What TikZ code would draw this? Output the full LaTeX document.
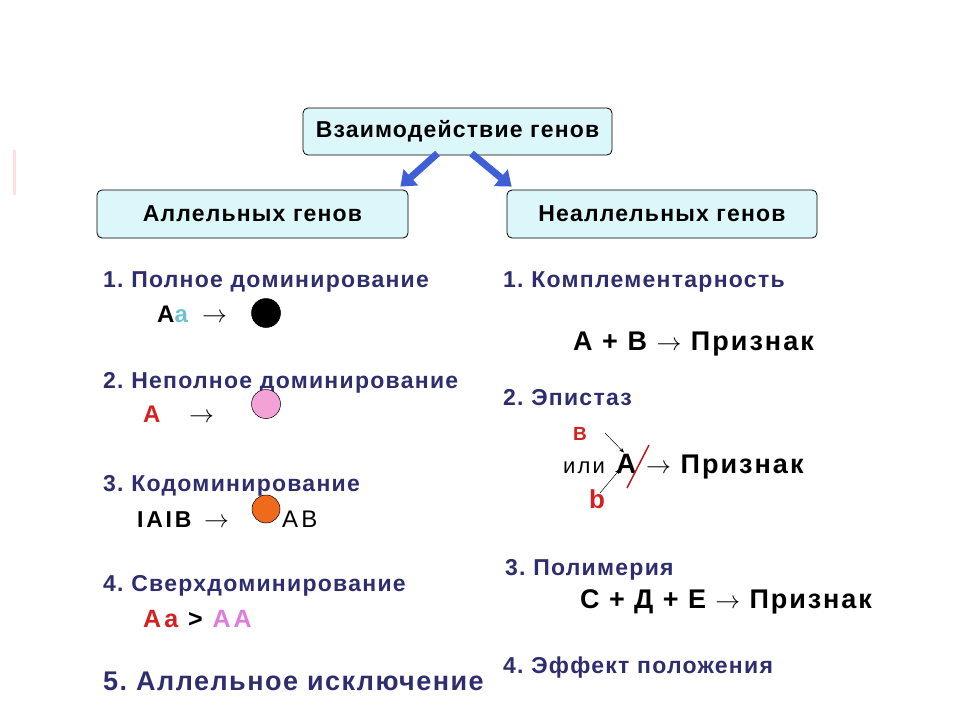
\documentclass[tikz,border=0pt]{standalone}
\usepackage{fontspec}
\setmainfont{Liberation Sans}
\usetikzlibrary{arrows.meta}
\AtBeginDocument{\frenchspacing}
\definecolor{navy}{HTML}{2E2E6E}
\definecolor{boxfill}{HTML}{DCF7FA}
\definecolor{arrblue}{HTML}{3F5FD6}
\definecolor{lblue}{HTML}{6CC3D3}
\definecolor{dred}{HTML}{D42020}
\definecolor{violet}{HTML}{E07CE0}
\definecolor{pinkc}{HTML}{F2A2D6}
\definecolor{orangec}{HTML}{F06A1E}
\newcommand{\fsz}[3]{\fontsize{#1}{#1}\selectfont#3\addfontfeature{LetterSpace=#2}}
\begin{document}
\begin{tikzpicture}[x=1pt,y=-1pt,
  hbox/.style={draw=black, line width=0.8pt, rounded corners=5pt, fill=boxfill, inner sep=0pt,
    font=\fsz{23}{5}{\bfseries}},
  bigarrow/.style={arrblue, line width=7pt, -{Triangle[length=14pt,width=21pt]}},
  item/.style={anchor=base west, inner sep=0pt, text=navy, font=\fsz{23}{5.5}{\bfseries}},
  formula/.style={anchor=base west, inner sep=0pt, font=\fsz{27}{7.5}{\bfseries}},
  plain/.style={anchor=base west, inner sep=0pt},
  arr/.style={anchor=base west, inner sep=0pt, font=\fontsize{28}{28}\selectfont},
  dot/.style={circle, draw=black, line width=0.5pt, minimum size=29pt, inner sep=0pt},
  thinarrow/.style={line width=0.5pt, -{Stealth[length=5pt,width=4pt]}}
]
\useasboundingbox (0,0) rectangle (960,720);
\fill[white] (0,0) rectangle (960,720);
\draw[red!12, line width=3pt] (14,150) -- (14,195);

% boxes
\node[hbox, minimum width=309pt, minimum height=47pt] (top) at (457.5,131.5) {Взаимодействие генов};
\node[hbox, minimum width=311pt, minimum height=48pt] (left) at (252.5,214) {Аллельных генов};
\node[hbox, minimum width=310pt, minimum height=48pt] (right) at (662,214) {Неаллельных генов};

\draw[bigarrow] ([xshift=-20pt,yshift=2pt]top.south) -- ([xshift=-8pt,yshift=3pt]left.north east);
\draw[bigarrow] ([xshift=14pt,yshift=2pt]top.south) -- ([xshift=5pt,yshift=3pt]right.north west);

% left column
\node[item] (l1) at (103,287) {1. Полное доминирование};
\node[formula, font=\fsz{24}{10}{\bfseries}] (l1f) at (157,322) {A\textcolor{lblue}{a}};
\node[arr] (l1a) at (202,322) {$\rightarrow$};
\node[dot, fill=black] (c1) at (266,313) {};

\node[item] (l2) at (103,388) {2. Неполное доминирование};
\node[formula, font=\fsz{24}{8}{\bfseries}, text=dred] (l2f) at (143,422) {A};
\node[arr] (l2a) at (189,422) {$\rightarrow$};
\node[dot, fill=pinkc] (c2) at (266,404) {};

\node[item] (l3) at (103,491) {3. Кодоминирование};
\node[formula, font=\fsz{23}{12}{\bfseries}] (l3f) at (137,527) {IAIB};
\node[arr] (l3a) at (204,527) {$\rightarrow$};
\node[dot, fill=orangec, minimum size=28pt] (c3) at (266,509) {};
\node[plain, font=\fsz{24}{13}{}] (ab) at (282,527) {AB};

\node[item] (l4) at (103,591) {4. Сверхдоминирование};
\node[formula, font=\fsz{25}{12}{\bfseries}] (l4f) at (143,627) {\textcolor{dred}{Aa} > \textcolor{violet}{AA}};

\node[item, font=\fsz{27}{5.5}{\bfseries}] (l5) at (103,690) {5. Аллельное исключение};

% right column
\node[item] (r1) at (503,287) {1. Комплементарность};
\node[formula] (r1f) at (573,350) {A + B $\rightarrow$ Признак};

\node[item] (r2) at (503,405) {2. Эпистаз};
\node[plain, text=dred, font=\fsz{19}{4}{\bfseries}] (rB) at (573,440) {B};
\node[plain, font=\fsz{22}{10}{}] (ili) at (563,473) {или};
\node[plain, font=\fsz{28}{0}{\bfseries}] (rA) at (616,473) {A};
\node[plain, text=dred, font=\fsz{26}{0}{\bfseries}] (rb) at (589,508) {b};
\node[formula] (r2f) at (646,473) {$\rightarrow$ Признак};
\draw[dred!85!black, line width=1.5pt] (627,488) -- (649,445);
\coordinate (bstart) at (605,433);
\coordinate (lbstart) at (600,493);
\draw[thinarrow] (bstart) -- ([xshift=8pt,yshift=1pt]rA.north west);
\draw[thinarrow] (lbstart) -- ([xshift=4pt,yshift=4pt]rA.south west);

\node[item] (r3) at (505,575) {3. Полимерия};
\node[formula, font=\fsz{27}{7}{\bfseries}] (r3f) at (580,608) {C + Д + E $\rightarrow$ Признак};

\node[item] (r4) at (503,673) {4. Эффект положения};
\end{tikzpicture}
\end{document}
